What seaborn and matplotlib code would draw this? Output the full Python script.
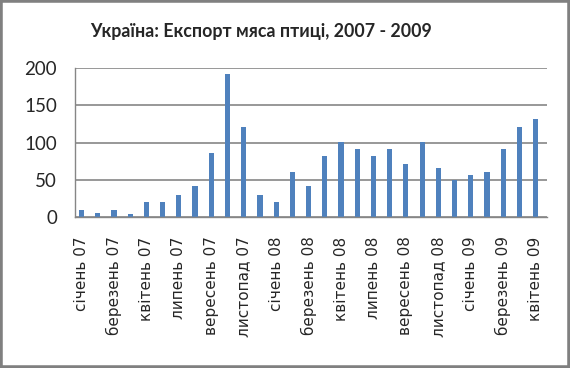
import pandas as pd
import seaborn as sns
import matplotlib.pyplot as plt
from matplotlib.patches import Rectangle

# monthly poultry export, Jan 2007 - 2009 (29 months)
values = [10, 6, 10, 4.5, 20.5, 19.5, 30, 41, 85.5, 192, 120.5, 30, 20.5, 61, 41,
          81.5, 101, 91, 81.5, 91, 70.5, 101, 65.5, 50, 56, 61, 91, 120.5, 131.5]
tick_labels = ['січень 07', 'березень 07', 'квітень 07', 'липень 07', 'вересень 07',
               'листопад 07', 'січень 08', 'березень 08', 'квітень 08', 'липень 08',
               'вересень 08', 'листопад 08', 'січень 09', 'березень 09', 'квітень 09']
y_ticks = [0, 50, 100, 150, 200]
title = 'Україна: Експорт мяса птиці, 2007 - 2009'

df = pd.DataFrame({'idx': range(len(values)), 'value': values})

sns.set_style('white')
plt.rcParams['font.family'] = ['Lato', 'DejaVu Sans']

fig = plt.figure(figsize=(5.7, 3.68), dpi=100)
ax = fig.add_axes([75 / 570, 1 - 217 / 368, 472 / 570, 149 / 368])

sns.barplot(data=df, x='idx', y='value', color='#4F81BD', saturation=1,
            width=0.32, linewidth=0, ax=ax)

ax.set_xlim(-0.4, 28.7)
ax.set_ylim(0, 200)
ax.set_yticks(y_ticks)
ax.set_yticklabels([str(t) for t in y_ticks], fontsize=13.5)
ax.set_xticks(range(0, len(values), 2))
ax.set_xticklabels(tick_labels, rotation=90, fontsize=11,
                   family=['DejaVu Sans'])
ax.tick_params(axis='x', length=0, pad=14)
ax.tick_params(axis='y', length=0, pad=13)
ax.set_xlabel('')
ax.set_ylabel('')
ax.yaxis.grid(True, color='#868686', linewidth=1.2)
ax.set_axisbelow(True)
for side in ['top', 'right']:
    ax.spines[side].set_visible(False)
for side in ['left', 'bottom']:
    ax.spines[side].set_color('#868686')
    ax.spines[side].set_linewidth(1.0)

fig.text(261 / 570, 1 - 31 / 368, title, ha='center', va='center',
         fontsize=12.8, fontweight='bold')

fig.add_artist(Rectangle((0, 0), 1, 1, transform=fig.transFigure, fill=False,
                         edgecolor='#808080', linewidth=4))

fig.savefig('out.png', dpi=100)
